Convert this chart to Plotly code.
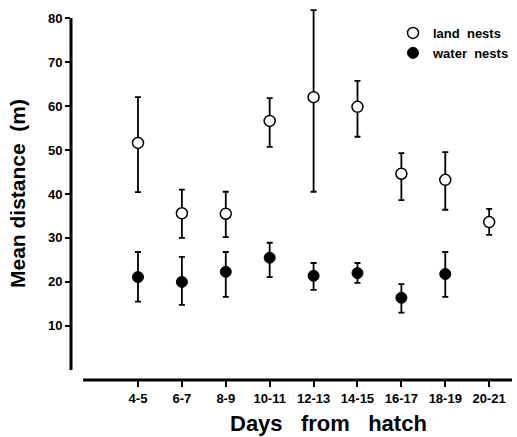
import plotly.graph_objects as go

categories = ["4-5", "6-7", "8-9", "10-11", "12-13", "14-15", "16-17", "18-19", "20-21"]
xpos = [1, 2, 3, 4, 5, 6, 7, 8, 9]

land_mean = [51.6, 35.6, 35.5, 56.6, 62.0, 59.8, 44.6, 43.2, 33.6]
land_upper = [62.0, 41.0, 40.5, 61.8, 81.8, 65.7, 49.3, 49.5, 36.6]
land_lower = [40.4, 30.0, 30.2, 50.7, 40.5, 53.0, 38.6, 36.4, 30.7]

water_x = [1, 2, 3, 4, 5, 6, 7, 8]
water_mean = [21.1, 20.0, 22.3, 25.5, 21.4, 22.0, 16.4, 21.8]
water_upper = [26.8, 25.7, 26.8, 28.9, 24.3, 24.3, 19.5, 26.8]
water_lower = [15.5, 14.8, 16.6, 21.1, 18.2, 19.8, 13.0, 16.6]

yticks = [10, 20, 30, 40, 50, 60, 70, 80]

FONT = "Liberation Sans, Arial, Helvetica, sans-serif"
NB = "\u00a0"

fig = go.Figure()
fig.add_trace(go.Scatter(
    x=water_x, y=water_mean, mode="markers", name="water" + NB * 2 + "nests",
    cliponaxis=False,
    marker=dict(symbol="circle", size=11, color="black", line=dict(color="black", width=1)),
    error_y=dict(type="data", symmetric=False,
                 array=[u - m for u, m in zip(water_upper, water_mean)],
                 arrayminus=[m - l for m, l in zip(water_mean, water_lower)],
                 color="black", thickness=1.8, width=3),
))
fig.add_trace(go.Scatter(
    x=xpos, y=land_mean, mode="markers", name="land" + NB * 2 + "nests",
    cliponaxis=False,
    marker=dict(symbol="circle", size=11, color="white", line=dict(color="black", width=1.5)),
    error_y=dict(type="data", symmetric=False,
                 array=[u - m for u, m in zip(land_upper, land_mean)],
                 arrayminus=[m - l for m, l in zip(land_mean, land_lower)],
                 color="black", thickness=1.8, width=3),
))

# axis lines
fig.add_shape(type="line", xref="paper", yref="y", x0=0, x1=0, y0=0, y1=80,
              line=dict(color="black", width=3))
fig.add_shape(type="line", xref="x", yref="paper", x0=-0.25, x1=9.52, y0=0, y1=0,
              line=dict(color="black", width=3))

fig.add_annotation(text="Days" + NB * 3 + "from" + NB * 3 + "hatch",
                   xref="paper", yref="paper", x=(328 - 71) / 441, y=-(423 - 380) / 373,
                   xanchor="center", yanchor="middle", showarrow=False,
                   font=dict(size=22, weight="bold", family=FONT))

fig.update_layout(
    width=517, height=437,
    margin=dict(l=71, r=5, t=7, b=57, autoexpand=False),
    paper_bgcolor="white", plot_bgcolor="white",
    font=dict(family=FONT, color="black"),
    showlegend=True,
    legend=dict(x=(393 - 71) / 441, y=(373 - 11) / 373, xanchor="left", yanchor="top",
                traceorder="reversed",
                font=dict(size=13, weight="bold", family=FONT),
                bgcolor="rgba(0,0,0,0)", itemwidth=30, tracegroupgap=0),
    xaxis=dict(range=[-0.526, 9.52], tickmode="array", tickvals=xpos, ticktext=categories,
               automargin=False,
               showgrid=False, zeroline=False, showline=False,
               ticks="outside", ticklen=6, tickwidth=2, tickcolor="black",
               tickfont=dict(size=13, weight="bold", family=FONT)),
    yaxis=dict(range=[-2.3, 82.5], tickmode="array", tickvals=yticks,
               automargin=False,
               showgrid=False, zeroline=False, showline=False,
               ticks="outside", ticklen=5, tickwidth=2, tickcolor="black",
               tickfont=dict(size=13, weight="bold", family=FONT),
               title=dict(text="Mean distance" + NB * 2 + "(m)",
                          font=dict(size=21, weight="bold", family=FONT), standoff=16)),
)

fig.write_html("out.html")
